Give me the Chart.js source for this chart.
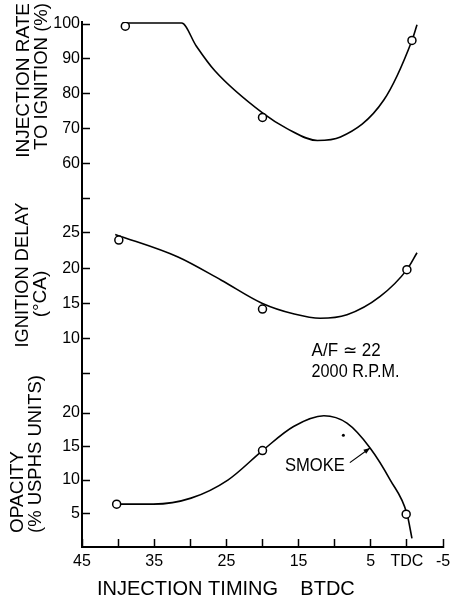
<html>
<head>
<meta charset="UTF-8" />
<title>Injection timing</title>
<script src="https://cdn.jsdelivr.net/npm/chart.js"></script>
<style>
  body { margin: 0; padding: 0; background: #fff; }
  canvas { display: block; }
</style>
</head>
<body>
<canvas id="chart" width="467" height="602"></canvas>
<script>
// x axis: injection timing (deg BTDC), reversed
const xTickValues = [45, 40, 35, 30, 25, 20, 15, 10, 5, 0, -5];
const xTickLabels = ['45', '', '35', '', '25', '', '15', '', '5', 'TDC', '-5'];

// top panel: injection rate to ignition (%)
const rateTickValues = [50, 60, 70, 80, 90, 100];
const rateTickLabels = ['', '60', '70', '80', '90', '100'];
const rateX = [39, 20, -0.7];
const rateY = [99.4, 73.2, 95.3];
const rateCurveX = [38.6, 31.2, 29.2, 26.6, 20, 16.6, 12.4, 9.2, 3.2, -0.7, -1.4];
const rateCurveY = [100.3, 100.3, 93.8, 86.6, 74.5, 70, 66.6, 67.6, 78.2, 95.3, 99.8];

// middle panel: ignition delay (deg CA)
const delayTickValues = [5, 10, 15, 20, 25];
const delayTickLabels = ['', '10', '15', '20', '25'];
const delayX = [39.9, 20, 0];
const delayY = [24.0, 14.2, 19.8];
const delayCurveX = [40.4, 31.7, 25.7, 20, 15.6, 12, 8.3, 3.7, 0, -1.4];
const delayCurveY = [24.8, 21.6, 18.3, 15.0, 13.5, 12.9, 13.4, 16.0, 19.8, 22.2];

// bottom panel: opacity (% USPHS units)
const opTickValues = [5, 10, 15, 20];
const opTickLabels = ['5', '10', '15', '20'];
const opX = [40.2, 20, 0.1];
const opY = [6.4, 14.4, 4.9];
const opCurveX = [40.2, 35.1, 29.9, 24.8, 20, 15.7, 11.5, 8.3, 5.1, 2.3, 0, -0.7];
const opCurveY = [6.4, 6.4, 7.3, 10, 14.4, 18, 19.6, 18.5, 14.8, 10, 5, 1.3];
const strayX = [8.8];
const strayY = [16.7];

function pts(xs, ys) {
    return xs.map((x, i) => ({x: x, y: ys[i]}));
}

function setTicks(values) {
    return function (scale) {
        scale.ticks = values.map(v => ({value: v}));
    };
}

function labelFor(values, labels) {
    return function (v) {
        const i = values.indexOf(v);
        return i < 0 ? '' : labels[i];
    };
}

Chart.defaults.font.family = "'Liberation Sans', Arial, sans-serif";
Chart.defaults.color = '#000';

const tickGrid = {
    drawOnChartArea: false,
    drawTicks: true,
    tickLength: -8,
    tickWidth: 1.5,
    tickColor: '#000',
};
const axisBorder = {display: true, color: '#000', width: 2};

function yAxis(min, max, weight, order, values, labels) {
    return {
        type: 'linear',
        position: 'left',
        stack: 'left',
        stackWeight: weight,
        weight: order,
        min: min,
        max: max,
        grid: tickGrid,
        border: axisBorder,
        afterBuildTicks: setTicks(values),
        afterFit: function (s) { s.width = 82; },
        ticks: {
            font: {size: 16},
            padding: 10,
            autoSkip: false,
            callback: labelFor(values, labels),
        },
    };
}

const curveStyle = {
    showLine: true,
    borderColor: '#000',
    borderWidth: 1.6,
    pointRadius: 0,
    cubicInterpolationMode: 'monotone',
};
const pointStyle = {
    showLine: false,
    pointRadius: 4,
    pointBorderWidth: 1.5,
    pointBorderColor: '#000',
    pointBackgroundColor: '#fff',
};

// axis titles and notes, drawn onto the canvas after the chart
const textPlugin = {
    id: 'texts',
    afterDraw(chart) {
        const ctx = chart.ctx;
        const x = chart.scales.x;
        const yD = chart.scales.yDelay;
        const yO = chart.scales.yOp;
        ctx.save();
        ctx.fillStyle = '#000';
        ctx.strokeStyle = '#000';
        ctx.textBaseline = 'middle';

        const vTitles = [
            {t: 'INJECTION RATE', x: 24, y: 3, a: 'right', w: 162},
            {t: 'TO IGNITION (%)', x: 42, y: 3, a: 'right', w: 147},
            {t: 'IGNITION DELAY', x: 23, y: 275, a: 'center', w: 145},
            {t: '(°CA)', x: 41, y: 294, a: 'center', w: 52},
            {t: 'OPACITY', x: 18, y: 533, a: 'left', w: 90},
            {t: '(% USPHS UNITS)', x: 36, y: 533, a: 'left', w: 158},
        ];
        ctx.font = "19px 'Liberation Sans', Arial, sans-serif";
        vTitles.forEach(o => {
            ctx.save();
            ctx.translate(o.x, o.y);
            ctx.rotate(-Math.PI / 2);
            ctx.textAlign = o.a;
            ctx.fillText(o.t, 0, 0, o.w);
            ctx.restore();
        });

        ctx.font = "20px 'Liberation Sans', Arial, sans-serif";
        ctx.textAlign = 'left';
        ctx.fillText('INJECTION TIMING    BTDC', 97, 589, 260);

        ctx.font = "18px 'Liberation Sans', Arial, sans-serif";
        ctx.fillText('A/F ≃ 22', x.getPixelForValue(13.2), yD.getPixelForValue(8.3), 69);
        ctx.fillText('2000 R.P.M.', x.getPixelForValue(13.2), yD.getPixelForValue(5.3), 88);
        ctx.fillText('SMOKE', x.getPixelForValue(16.9), yO.getPixelForValue(12.1), 60);

        // arrow from the SMOKE note to the curve
        const ax0 = x.getPixelForValue(7.9), ay0 = yO.getPixelForValue(12.6);
        const ax1 = x.getPixelForValue(5.1), ay1 = yO.getPixelForValue(14.8);
        ctx.lineWidth = 1.2;
        ctx.beginPath();
        ctx.moveTo(ax0, ay0);
        ctx.lineTo(ax1, ay1);
        ctx.stroke();
        const ang = Math.atan2(ay1 - ay0, ax1 - ax0);
        ctx.beginPath();
        ctx.moveTo(ax1, ay1);
        ctx.lineTo(ax1 - 7 * Math.cos(ang - 0.35), ay1 - 7 * Math.sin(ang - 0.35));
        ctx.lineTo(ax1 - 7 * Math.cos(ang + 0.35), ay1 - 7 * Math.sin(ang + 0.35));
        ctx.closePath();
        ctx.fill();
        ctx.restore();
    }
};

new Chart(document.getElementById('chart'), {
    type: 'scatter',
    data: {
        datasets: [
            {...pointStyle, data: pts(rateX, rateY), yAxisID: 'yRate'},
            {...pointStyle, data: pts(delayX, delayY), yAxisID: 'yDelay'},
            {...pointStyle, data: pts(opX, opY), yAxisID: 'yOp'},
            {showLine: false, pointRadius: 1.5, pointBackgroundColor: '#000', pointBorderWidth: 0,
             data: pts(strayX, strayY), yAxisID: 'yOp'},
            {...curveStyle, data: pts(rateCurveX, rateCurveY), yAxisID: 'yRate'},
            {...curveStyle, data: pts(delayCurveX, delayCurveY), yAxisID: 'yDelay'},
            {...curveStyle, data: pts(opCurveX, opCurveY), yAxisID: 'yOp'},
        ],
    },
    options: {
        responsive: false,
        animation: false,
        layout: {padding: {top: 22, right: 24, left: 0, bottom: 0}},
        plugins: {
            legend: {display: false},
            tooltip: {enabled: false},
        },
        scales: {
            x: {
                type: 'linear',
                position: 'bottom',
                reverse: true,
                min: -5,
                max: 45,
                grid: tickGrid,
                border: axisBorder,
                afterBuildTicks: setTicks(xTickValues),
                afterFit: function (s) { s.height = 55; },
                ticks: {
                    font: {size: 16},
                    padding: 13,
                    maxRotation: 0,
                    autoSkip: false,
                    callback: labelFor(xTickValues, xTickLabels),
                },
            },
            yOp: yAxis(0, 23.0, 154, 1, opTickValues, opTickLabels),
            yDelay: yAxis(2.3, 27.55, 178, 2, delayTickValues, delayTickLabels),
            yRate: yAxis(45.2, 100.6, 193, 3, rateTickValues, rateTickLabels),
        },
    },
    plugins: [textPlugin],
});
</script>
</body>
</html>
